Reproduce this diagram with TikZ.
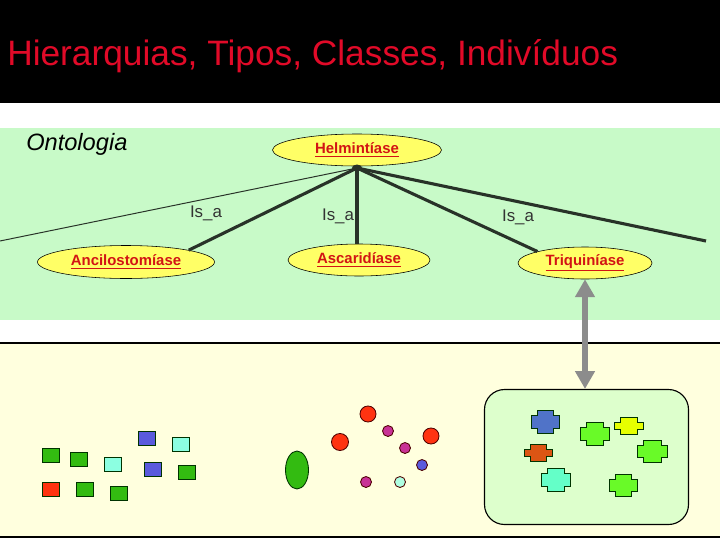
\documentclass[tikz,border=0pt]{standalone}
\usepackage{fontspec}
\setmainfont{Liberation Sans}
\usetikzlibrary{arrows.meta,shapes.geometric}

\definecolor{bannerred}{RGB}{225,10,40}
\definecolor{ontogreen}{RGB}{200,250,200}
\definecolor{worldyellow}{RGB}{255,255,222}
\definecolor{boxgreen}{RGB}{221,255,204}
\definecolor{classyellow}{RGB}{255,255,102}
\definecolor{classred}{RGB}{210,20,20}
\definecolor{linkdark}{RGB}{40,50,40}
\definecolor{sqgreen}{RGB}{51,187,17}
\definecolor{sqred}{RGB}{255,51,17}
\definecolor{sqblue}{RGB}{90,90,221}
\definecolor{sqcyan}{RGB}{140,255,225}
\definecolor{dotmag}{RGB}{200,50,150}
\definecolor{dotcyan}{RGB}{175,255,225}
\definecolor{blobblue}{RGB}{80,115,200}
\definecolor{blobgreen}{RGB}{105,250,40}
\definecolor{blobyellow}{RGB}{230,255,0}
\definecolor{bloborange}{RGB}{220,85,20}
\definecolor{blobcyan}{RGB}{100,255,200}

\tikzset{
  classnode/.style={ellipse, draw=black, fill=classyellow, inner sep=0pt,
    text=classred, font=\fontsize{10.6}{12}\selectfont\bfseries},
  isa/.style={font=\fontsize{12}{14}\selectfont, text=black!80},
  link/.style={draw=linkdark, line width=2.2pt},
  thinlink/.style={draw=linkdark, line width=0.7pt},
  thing/.style={draw=black!80!green, line width=0.6pt},
}

\begin{document}
\begin{tikzpicture}[x=0.025cm, y=-0.025cm]
\useasboundingbox (0,0) rectangle (720,540);

% bands
\fill[black] (0,0) rectangle (720,103);
\fill[ontogreen] (0,128) rectangle (720,320);
\fill[worldyellow] (0,343) rectangle (720,537);
\draw[line width=0.8pt] (0,343)--(720,343);
\draw[line width=0.8pt] (0,537)--(720,537);

\node (title) at (7,56) [anchor = west, inner sep=0pt, text=bannerred,
  font=\fontsize{25.1}{29}\selectfont] {Hierarquias, Tipos, Classes, Indivíduos};
\node (onto) at (26,144) [anchor = west, inner sep=0pt,
  font=\fontsize{16.8}{20}\selectfont\itshape] {Ontologia};

% classes
\node[classnode, minimum width=169*0.025cm, minimum height=32*0.025cm] (helm) at (357,150) {\underline{Helmintíase}};
\node[classnode, minimum width=177*0.025cm, minimum height=33*0.025cm] (anc) at (126,262) {\underline{Ancilostomíase}};
\node[classnode, minimum width=142*0.025cm, minimum height=32*0.025cm] (asc) at (359,260) {\underline{Ascaridíase}};
\node[classnode, minimum width=134*0.025cm, minimum height=32*0.025cm] (tri) at (585,263) {\underline{Triquiníase}};

\coordinate (j) at (357,168);
\coordinate (lfree) at (0,241);
\coordinate (rfree) at (706,241);
\draw[thinlink] (j) -- (lfree);
\draw[link] (j) -- (rfree);
\draw[link] (j) -- (anc.north east);
\draw[link] (j) -- (asc.north -| j);
\draw[link] (j) -- (tri.north west);
\fill[linkdark] (j) ellipse [x radius=5, y radius=3.5];

\node[isa] (isa1) at (206,213) {Is\_a};
\node[isa] (isa2) at (338,216) {Is\_a};
\node[isa] (isa3) at (518,217) {Is\_a};

% individuals
\node[draw=black, fill=boxgreen, rounded corners=0.5cm, line width=0.8pt,
  minimum width=204*0.025cm, minimum height=135*0.025cm] (inst) at (586.5,457) {};
\draw[{Triangle[length=12.7pt,width=13.5pt]}-{Triangle[length=12.7pt,width=13.5pt]},
  line width=4.2pt, draw=black!45] (tri.south) -- (tri.south |- inst.north);

\foreach \x/\y/\c in {51/455/sqgreen, 79/459/sqgreen, 113/464/sqcyan, 147/438/sqblue,
  181/444/sqcyan, 153/469/sqblue, 187/472/sqgreen, 51/489/sqred, 85/489/sqgreen, 119/493/sqgreen}
  \draw[thing, fill=\c] (\x-8.5,\y-7) rectangle ++(17,14);

\draw[thing, fill=sqgreen] (297,470) ellipse [x radius=11.5, y radius=19];
\foreach \x/\y/\r/\c in {340/442/8.5/sqred, 368/414/8/sqred, 388/431/5.5/dotmag, 405/448/5.5/dotmag,
  431/436/8/sqred, 422/465/5.5/sqblue, 366/482/5.5/dotmag, 400/482/5.5/dotcyan}
  \draw[thing, draw=black!70!red, fill=\c] (\x,\y) circle [radius=\r];

\foreach \x/\y/\a/\b/\c in {545/422/14/11.5/blobblue, 595/434/14.5/11.5/blobgreen,
  629/426/14.5/8.5/blobyellow, 538/453/14/8.5/bloborange, 652/451/15/11/blobgreen,
  556/480/14.5/11.5/blobcyan, 623/485/14/11/blobgreen}
  \draw[thing, fill=\c] (\x-\a+6,\y-\b) -- (\x+\a-6,\y-\b) -- (\x+\a-6,\y-\b+5) -- (\x+\a,\y-\b+5)
    -- (\x+\a,\y+\b-5) -- (\x+\a-6,\y+\b-5) -- (\x+\a-6,\y+\b) -- (\x-\a+6,\y+\b)
    -- (\x-\a+6,\y+\b-5) -- (\x-\a,\y+\b-5) -- (\x-\a,\y-\b+5) -- (\x-\a+6,\y-\b+5) -- cycle;
\end{tikzpicture}
\end{document}
